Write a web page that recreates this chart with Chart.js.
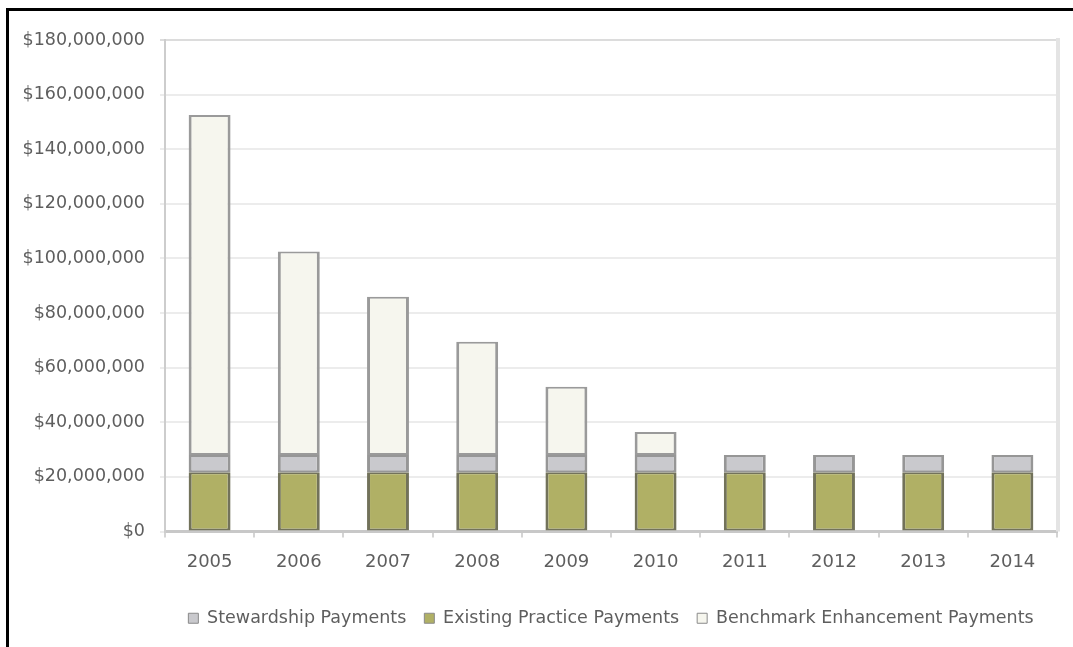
<!DOCTYPE html>
<html>
<head>
<meta charset="utf-8">
<script src="https://cdn.jsdelivr.net/npm/chart.js@4/dist/chart.umd.min.js"></script>
<style>
    html, body { margin: 0; padding: 0; background: #fff; }
    #wrap { position: relative; width: 1073px; height: 647px; overflow: hidden; }
    #chart { position: absolute; left: 0; top: 0; }
    /* black frame on the top and left edges */
    #frame {
        position: absolute; left: 6px; top: 8px; width: 1200px; height: 800px;
        border-top: 3px solid #000; border-left: 3px solid #000; pointer-events: none;
    }
</style>
</head>
<body>
<div id="wrap">
    <canvas id="chart" width="1073" height="647"></canvas>
    <div id="frame"></div>
</div>
<script>
const years = ["2005", "2006", "2007", "2008", "2009", "2010", "2011", "2012", "2013", "2014"];

const existingPractice = [21700000, 21700000, 21700000, 21700000, 21700000, 21700000, 21700000, 21700000, 21700000, 21700000];
const stewardship = [6300000, 6300000, 6300000, 6300000, 6300000, 6300000, 6300000, 6300000, 6300000, 6300000];
const benchmarkEnhancement = [124500000, 74500000, 58000000, 41500000, 25000000, 8400000, 0, 0, 0, 0];

const legendOrder = ["Stewardship Payments", "Existing Practice Payments", "Benchmark Enhancement Payments"];

const yMax = 180000000;
const yStep = 20000000;

const textColor = "#5e5e5e";
const fontFamily = "'DejaVu Sans', sans-serif";

// light frame on the right side of the plot area
const plotFrame = {
    id: "plotFrame",
    beforeDatasetsDraw(chart) {
        const { ctx, chartArea } = chart;
        ctx.save();
        ctx.strokeStyle = "#e4e4e4";
        ctx.lineWidth = 4;
        ctx.beginPath();
        ctx.moveTo(chartArea.right + 1, chartArea.top - 2);
        ctx.lineTo(chartArea.right + 1, chartArea.bottom);
        ctx.stroke();
        ctx.restore();
    },
};

const sideBorders = { left: 3, right: 3, top: 2, bottom: 2 };

new Chart(document.getElementById("chart").getContext("2d"), {
    type: "bar",
    data: {
        labels: years,
        datasets: [
            {
                label: "Existing Practice Payments",
                data: existingPractice,
                backgroundColor: "#b0b065",
                borderColor: "#72725a",
                borderWidth: sideBorders,
                borderSkipped: false,
            },
            {
                label: "Stewardship Payments",
                data: stewardship,
                backgroundColor: "#c9c9cd",
                borderColor: "#969696",
                borderWidth: sideBorders,
                borderSkipped: false,
            },
            {
                label: "Benchmark Enhancement Payments",
                data: benchmarkEnhancement,
                backgroundColor: "#f6f6ee",
                borderColor: "#9a9a9a",
                borderWidth: sideBorders,
                borderSkipped: false,
            },
        ],
    },
    options: {
        responsive: false,
        animation: false,
        barPercentage: 0.47,
        categoryPercentage: 1,
        layout: {
            padding: { left: 0, right: 16, top: 40, bottom: 10 },
        },
        scales: {
            x: {
                stacked: true,
                afterFit(scale) { scale.height = 60; },
                grid: {
                    drawOnChartArea: false,
                    drawTicks: true,
                    tickLength: 6,
                    color: "#d4d4d4",
                    lineWidth: 2,
                },
                border: { color: "#c8c8c8", width: 3 },
                ticks: {
                    color: textColor,
                    padding: 14,
                    font: { family: fontFamily, size: 18 },
                    maxRotation: 0,
                },
            },
            y: {
                stacked: true,
                min: 0,
                max: yMax,
                afterFit(scale) { scale.width = 165; },
                grid: {
                    color: (ctx) => (ctx.tick && ctx.tick.value === yMax ? "#dcdcdc" : "#ececec"),
                    lineWidth: 2,
                    tickLength: 5,
                },
                border: { color: "#cdcdcd", width: 2 },
                ticks: {
                    stepSize: yStep,
                    color: textColor,
                    padding: 15,
                    font: { family: fontFamily, size: 17.5 },
                    callback: (value) => "$" + Number(value).toLocaleString("en-US"),
                },
            },
        },
        plugins: {
            tooltip: { enabled: false },
            legend: {
                position: "bottom",
                fullSize: false,
                labels: {
                    color: textColor,
                    font: { family: fontFamily, size: 17.5 },
                    boxWidth: 10,
                    boxHeight: 10,
                    padding: 18,
                    sort: (a, b) => legendOrder.indexOf(a.text) - legendOrder.indexOf(b.text),
                    generateLabels(chart) {
                        const items = Chart.defaults.plugins.legend.labels.generateLabels(chart);
                        return items.map((item) => ({ ...item, lineWidth: 1, strokeStyle: "#8a8a8a" }));
                    },
                },
            },
        },
    },
    plugins: [plotFrame],
});
</script>
</body>
</html>
